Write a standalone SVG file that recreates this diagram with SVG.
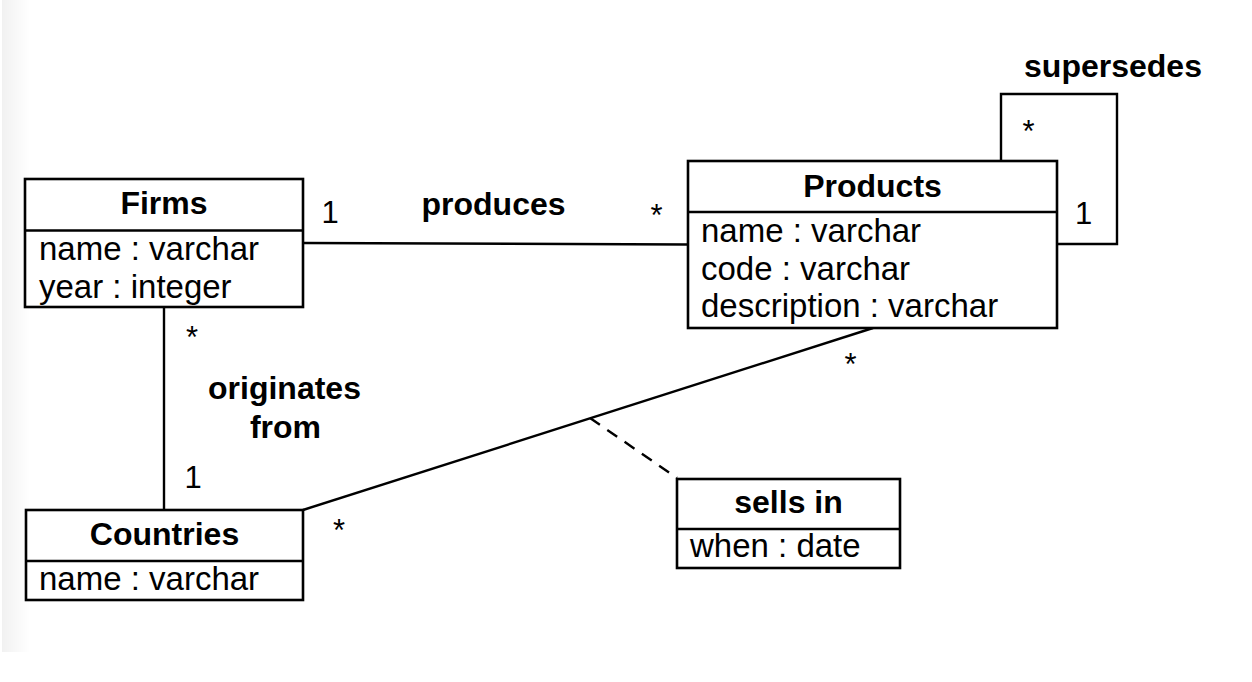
<svg xmlns="http://www.w3.org/2000/svg" width="1252" height="682" viewBox="0 0 1252 682">
<defs>
<linearGradient id="edge" x1="0" y1="0" x2="1" y2="0">
<stop offset="0" stop-color="#f1f1f1"/>
<stop offset="1" stop-color="#ffffff"/>
</linearGradient>
<style>
.box{fill:#ffffff;stroke:#000000;stroke-width:2.6}
.div{stroke:#000000;stroke-width:2.6}
.conn{stroke:#000000;stroke-width:2.4;fill:none}
.dash{stroke-dasharray:12 9}
.title{font-family:"Liberation Sans",Arial,sans-serif;font-size:32px;font-weight:bold;fill:#000;text-anchor:middle}
.attr{font-family:"Liberation Sans",Arial,sans-serif;font-size:33px;fill:#000}
.lbl{font-family:"Liberation Sans",Arial,sans-serif;font-size:32px;font-weight:bold;fill:#000;text-anchor:middle}
.mult{font-family:"Liberation Sans",Arial,sans-serif;font-size:31px;fill:#000;text-anchor:middle}
</style>
</defs>
<rect x="0" y="0" width="1252" height="682" fill="#ffffff"/>
<rect x="2" y="0" width="28" height="652" fill="url(#edge)"/>

<g id="connectors">
<line class="conn" x1="303" y1="243" x2="688" y2="244.5"/>
<line class="conn" x1="164" y1="307" x2="164" y2="510"/>
<line class="conn" x1="303" y1="510" x2="873" y2="328"/>
<polyline class="conn" points="1001,161 1001,94 1117,94 1117,244 1057,244"/>
<line class="conn dash" x1="590" y1="418" x2="677" y2="478"/>
</g>

<g id="labels">
<text class="lbl" x="493.5" y="215">produces</text>
<text class="lbl" x="1113" y="77">supersedes</text>
<text class="lbl" x="284.5" y="399">originates</text>
<text class="lbl" x="285.5" y="438">from</text>
<text class="mult" x="330" y="223">1</text>
<text class="mult" x="656.5" y="226">*</text>
<text class="mult" x="192" y="348">*</text>
<text class="mult" x="193" y="488">1</text>
<text class="mult" x="850.5" y="375">*</text>
<text class="mult" x="339" y="541">*</text>
<text class="mult" x="1028.5" y="142">*</text>
<text class="mult" x="1083.5" y="224">1</text>
</g>

<g id="firms">
<rect class="box" x="25" y="179" width="278" height="128"/>
<line class="div" x1="25" y1="230.5" x2="303" y2="230.5"/>
<text class="title" x="164" y="214">Firms</text>
<text class="attr" x="39" y="260">name : varchar</text>
<text class="attr" x="39" y="298">year : integer</text>
</g>

<g id="products">
<rect class="box" x="688" y="161" width="369" height="167"/>
<line class="div" x1="688" y1="212" x2="1057" y2="212"/>
<text class="title" x="872.5" y="197">Products</text>
<text class="attr" x="701" y="242">name : varchar</text>
<text class="attr" x="701" y="280">code : varchar</text>
<text class="attr" x="701" y="317">description : varchar</text>
</g>

<g id="countries">
<rect class="box" x="26" y="510" width="277" height="90"/>
<line class="div" x1="26" y1="561" x2="303" y2="561"/>
<text class="title" x="164.5" y="545">Countries</text>
<text class="attr" x="39" y="590">name : varchar</text>
</g>

<g id="sellsin">
<rect class="box" x="677" y="479" width="223" height="89"/>
<line class="div" x1="677" y1="529" x2="900" y2="529"/>
<text class="title" x="788.5" y="513">sells in</text>
<text class="attr" x="690" y="557">when : date</text>
</g>
</svg>
